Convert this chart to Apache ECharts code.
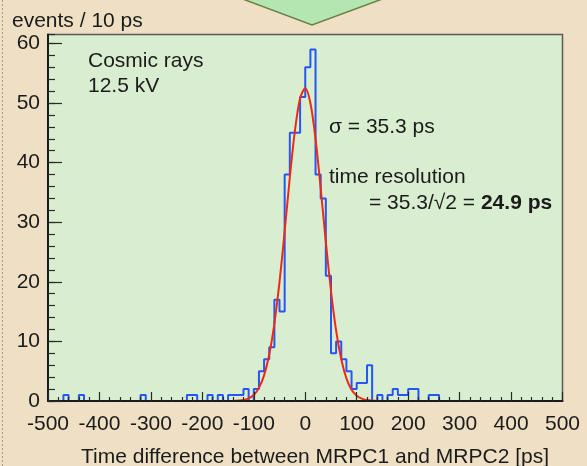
<!DOCTYPE html>
<html><head><meta charset="utf-8">
<script src="https://cdn.jsdelivr.net/npm/echarts@6/dist/echarts.min.js"></script>
<style>html,body{margin:0;padding:0;background:#EFE0C5}#c{width:587px;height:466px}</style>
</head><body><div id="c"></div>
<script>
// histogram: 10 ps bins from -500 to 500
const binStart = -500;
const binWidth = 10;
const counts = [
  0,0,0,1,0,0,1,0,0,0,
  0,0,0,0,0,0,0,0,1,0,
  0,0,0,0,0,0,0,1,1,0,
  0,1,0,1,0,1,1,1,2,0,
  2,5,7,9,17,15,38,45,45,51,
  56,59,38,34,21,8,10,7,5,2,
  3,3,6,0,1,0,1,2,1,1,
  2,2,0,0,1,1,0,0,0,0,
  0,0,0,0,0,0,0,0,0,0,
  0,0,0,0,0,0,0,0,0,0
];
// gaussian fit curve
const fitX = [-500,-400,-300,-200,-160,-140,-120,-110,-100,-90,-80,-70,-60,-50,-40,-30,-20,-10,0,10,20,30,40,50,60,70,80,90,100,110,120,140,160,200,300,400,500];
const fitY = [0,0,0,0,0,0.02,0.18,0.45,1.0,2.2,4.3,7.8,13.0,20.0,28.5,37.5,45.4,50.8,52.5,50.0,44.0,35.7,26.7,18.5,11.8,7.0,3.8,1.9,0.9,0.4,0.15,0.02,0,0,0,0,0];

const xMin = -500, xMax = 500, xStep = 100;
const yMin = 0, yMax = 61.5, yStep = 10, yMinorStep = 2;

const FONT = '"Liberation Sans", Arial, Helvetica, sans-serif';
const TXT = '#1b1b1b';

const histData = counts.map((c, i) => [binStart + i * binWidth, c]);
histData.push([binStart + counts.length * binWidth, counts[counts.length - 1]]);
const fitData = fitX.map((x, i) => [x, fitY[i]]);

const chart = echarts.init(document.getElementById('c'), null, {renderer: 'canvas'});
chart.setOption({
  animation: false,
  backgroundColor: '#EFE0C5',
  grid: {
    left: 48, right: 24.5, top: 34.5, bottom: 65,
    show: true,
    backgroundColor: '#D9EDD0',
    borderColor: '#5a5a5a',
    borderWidth: 1.5
  },
  xAxis: {
    type: 'value', min: xMin, max: xMax, interval: xStep,
    z: 5,
    axisLine: {show: true, onZero: false, lineStyle: {color: '#1a1a1a', width: 2}},
    axisTick: {show: true, inside: true, length: 9, lineStyle: {color: '#2a2a2a', width: 1.2}},
    minorTick: {show: true, splitNumber: 5, length: 4, lineStyle: {color: '#2a2a2a', width: 1.2}},
    axisLabel: {fontSize: 21, fontFamily: FONT, color: TXT, margin: 13},
    splitLine: {show: false}
  },
  yAxis: [
    {
      type: 'value', min: yMin, max: yMax, interval: yStep, position: 'left',
      z: 5,
      axisLine: {show: true, onZero: false, lineStyle: {color: '#1a1a1a', width: 2}},
      axisTick: {show: true, inside: true, length: 14, lineStyle: {color: '#2a2a2a', width: 1.2}},
      axisLabel: {fontSize: 21, fontFamily: FONT, color: TXT, margin: 8, showMaxLabel: false},
      splitLine: {show: false}
    },
    {
      type: 'value', min: yMin, max: yMax, interval: yMinorStep, position: 'left', offset: 0,
      z: 5,
      axisLine: {show: false, onZero: false},
      axisTick: {show: true, inside: true, length: 7, lineStyle: {color: '#2a2a2a', width: 1.2}},
      axisLabel: {show: false},
      splitLine: {show: false}
    }
  ],
  series: [
    {
      type: 'line', step: 'end', data: histData, yAxisIndex: 0,
      symbol: 'none',
      lineStyle: {color: '#2457F5', width: 2},
      z: 2
    },
    {
      type: 'line', data: fitData, yAxisIndex: 0,
      symbol: 'none', smooth: 0.3,
      lineStyle: {color: '#EE2A14', width: 2},
      z: 3
    }
  ],
  graphic: [
    {type: 'polygon', shape: {points: [[240,-2],[385,-2],[312,25]]},
     style: {fill: '#B3E6B1', stroke: '#6E7F44', lineWidth: 1.5}, z: 1},
    {type: 'line', shape: {x1: 2.5, y1: 0, x2: 2.5, y2: 466},
     style: {stroke: '#A99C80', lineWidth: 1, lineDash: [2, 2]}},
    {type: 'text', x: 12, y: 21.5, z: 10,
     style: {text: 'events / 10 ps', fontSize: 21, fontFamily: FONT, fill: TXT, align: 'left', verticalAlign: 'middle'}},
    {type: 'text', x: 315, y: 457, z: 10,
     style: {text: 'Time difference between MRPC1 and MRPC2 [ps]', fontSize: 21, fontFamily: FONT, fill: TXT, align: 'center', verticalAlign: 'middle'}},
    {type: 'text', x: 88, y: 61, z: 10,
     style: {text: 'Cosmic rays', fontSize: 21, fontFamily: FONT, fill: TXT, align: 'left', verticalAlign: 'middle'}},
    {type: 'text', x: 88, y: 86, z: 10,
     style: {text: '12.5 kV', fontSize: 21, fontFamily: FONT, fill: TXT, align: 'left', verticalAlign: 'middle'}},
    {type: 'text', x: 329, y: 127, z: 10,
     style: {text: 'σ = 35.3 ps', fontSize: 21, fontFamily: FONT, fill: TXT, align: 'left', verticalAlign: 'middle'}},
    {type: 'text', x: 329, y: 177, z: 10,
     style: {text: 'time resolution', fontSize: 21, fontFamily: FONT, fill: TXT, align: 'left', verticalAlign: 'middle'}},
    {type: 'text', x: 369, y: 203, z: 10,
     style: {text: '= 35.3/√2 = {b|24.9 ps}', fontSize: 21, fontFamily: FONT, fill: TXT, align: 'left', verticalAlign: 'middle',
       rich: {b: {fontSize: 21, fontFamily: FONT, fontWeight: 'bold', fill: TXT, color: TXT}}}}
  ]
});
</script>
</body></html>
